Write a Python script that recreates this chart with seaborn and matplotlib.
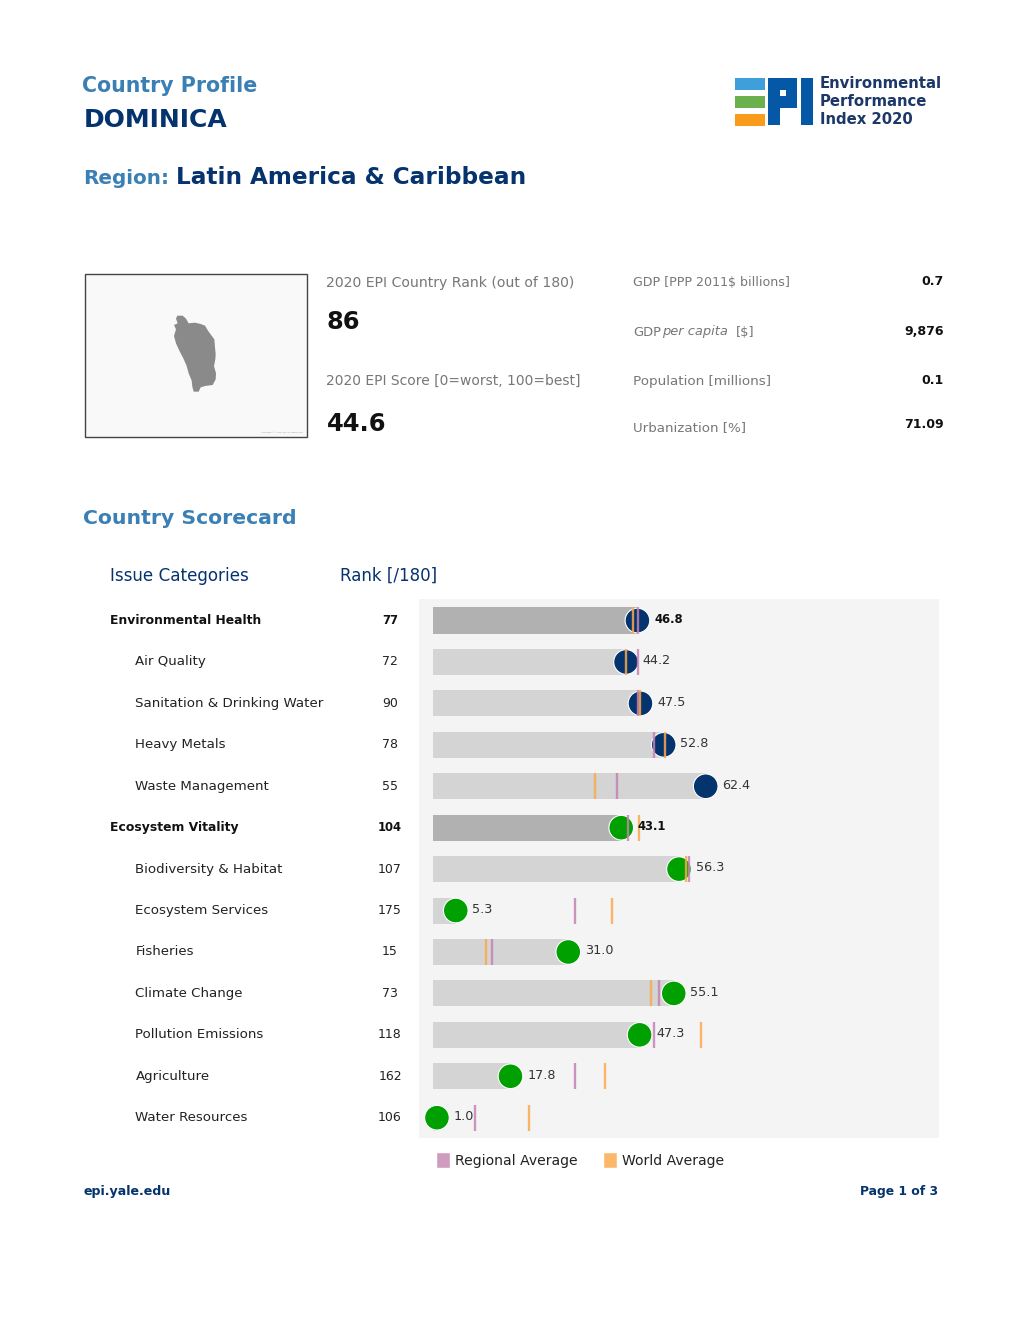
import pandas as pd
import matplotlib
matplotlib.use("Agg")
import matplotlib.pyplot as plt
from matplotlib.patches import Patch, Polygon, Rectangle
import seaborn as sns

# Scorecard values
issues = ["Environmental Health", "Air Quality", "Sanitation & Drinking Water", "Heavy Metals",
          "Waste Management", "Ecosystem Vitality", "Biodiversity & Habitat", "Ecosystem Services",
          "Fisheries", "Climate Change", "Pollution Emissions", "Agriculture", "Water Resources"]
ranks = [77, 72, 90, 78, 55, 104, 107, 175, 15, 73, 118, 162, 106]
scores = [46.8, 44.2, 47.5, 52.8, 62.4, 43.1, 56.3, 5.3, 31.0, 55.1, 47.3, 17.8, 1.0]
regional = [46.9, 46.9, 46.9, 50.7, 42.1, 44.7, 58.5, 32.6, 13.5, 51.8, 50.7, 32.6, 9.7]
world = [45.7, 44.3, 47.4, 53.0, 37.1, 47.1, 57.8, 41.0, 12.3, 49.9, 61.3, 39.5, 22.0]
headline_issues = ["Environmental Health", "Ecosystem Vitality"]
health_issues = issues[:5]

stat_labels = ["GDP [PPP 2011$ billions]", "GDP per capita [$]", "Population [millions]", "Urbanization [%]"]
stat_values = ["0.7", "9,876", "0.1", "71.09"]

NAVY = "#05336e"
MID_BLUE = "#3a80b5"
GREY_TEXT = "#777777"
REGIONAL = "#c583b2"
WORLD = "#fba94d"

sns.set_theme(style="white")
plt.rcParams["font.family"] = ["DejaVu Sans"]

fig = plt.figure(figsize=(10.2, 13.2), dpi=100)

# Page layer in pixel coordinates, for everything around the chart
page = fig.add_axes([0, 0, 1, 1])
page.set_xlim(0, 1020)
page.set_ylim(1320, 0)
page.axis("off")


def put(x, y, s, size, color="#222222", weight="normal", **kw):
    kw.setdefault("va", "center")
    page.text(x, y, s, fontsize=size, color=color, fontweight=weight, **kw)


# Header
put(82, 86, "Country Profile", 14.8, MID_BLUE, "bold")
put(84, 120, "DOMINICA", 18, NAVY, "bold")
put(83, 178, "Region:", 14.4, MID_BLUE, "bold")
put(176, 178, "Latin America & Caribbean", 16.7, NAVY, "bold")

# Logo
for y0, col in zip([78, 96, 114], ["#3f9fdb", "#6ab04c", "#f99b1c"]):
    page.add_patch(Rectangle((735, y0), 30, 12, color=col, lw=0))
page.add_patch(Polygon([(768, 78), (797.5, 78), (797.5, 107.5), (780, 107.5), (780, 125.3), (768, 125.3)],
                       color="#0458a5", lw=0))
page.add_patch(Rectangle((780, 90), 6, 6, color="white", lw=0))
page.add_patch(Rectangle((801, 78), 12, 47.3, color="#0458a5", lw=0))
for y0, line in zip([84, 102, 120], ["Environmental", "Performance", "Index 2020"]):
    put(820, y0, line, 10.7, "#1c3768", "bold")

# Map box
page.add_patch(Rectangle((85, 274), 222, 163, facecolor="#f9f9f9", edgecolor="#444444", lw=1))
outline = [(322, 167), (338, 167), (348, 176), (356, 190), (375, 188), (392, 192), (405, 197), (414, 212),
           (424, 226), (433, 238), (435, 262), (437, 282), (436, 298), (432, 318), (438, 340), (437, 358),
           (428, 375), (405, 378), (392, 382), (386, 395), (371, 395), (367, 380), (365, 362), (356, 340),
           (350, 318), (340, 295), (328, 272), (318, 250), (312, 228), (318, 208), (312, 195), (323, 190),
           (318, 176)]
page.add_patch(Polygon([(70 + x / 3, 260 + y / 3) for x, y in outline], color="#8a8a8a", lw=0))
put(303, 432.5, "Copyright © Free Vector Maps.com", 1.7, "#999999", ha="right")

# Rank and score block
put(326, 283, "2020 EPI Country Rank (out of 180)", 10.1, GREY_TEXT)
put(327, 322, "86", 17.4, "#111111", "bold")
put(326, 381, "2020 EPI Score [0=worst, 100=best]", 10, GREY_TEXT)
put(327, 424, "44.6", 17.4, "#111111", "bold")

# Country statistics
label_rows = [283, 332, 381, 428]
value_rows = [281.5, 331.5, 380, 424.5]
label_sizes = [9.1, 9.4, 9.7, 9.6]
for row, vrow, size, label, value in zip(label_rows, value_rows, label_sizes, stat_labels, stat_values):
    if "per capita" in label:
        put(633, row, "GDP", size, GREY_TEXT)
        put(662, row, "per capita", size, GREY_TEXT, style="italic")
        put(736, row, "[$]", size, GREY_TEXT)
    else:
        put(633, row, label, size, GREY_TEXT)
    put(944, vrow, value, 9.1, "#111111", "bold", ha="right")

put(83, 519, "Country Scorecard", 14.7, MID_BLUE, "bold")
put(110, 576, "Issue Categories", 12.1, NAVY)
put(340, 576, "Rank [/180]", 12, NAVY)

# Scorecard chart
df = pd.DataFrame({"issue": issues, "rank": ranks, "score": scores, "regional": regional, "world": world})
df["row"] = range(len(df))
df["kind"] = ["headline" if i in headline_issues else "sub" for i in df["issue"]]
df["group"] = ["health" if i in health_issues else "vitality" for i in df["issue"]]

ax = fig.add_axes([419 / 1020, 1 - 1138 / 1320, 520 / 1020, 539 / 1320], facecolor="#f4f4f4")
sns.barplot(data=df, x="score", y="issue", hue="kind", palette={"headline": "#b1b1b1", "sub": "#d4d4d4"},
            dodge=False, width=0.63, legend=False, saturation=1, linewidth=0, ax=ax, zorder=2)
sns.scatterplot(data=df, x="score", y="row", hue="group", palette={"health": NAVY, "vitality": "#00a000"},
                s=315, edgecolor="white", linewidth=0.8, legend=False, ax=ax, zorder=3, clip_on=False)
ax.vlines(df["regional"], df["row"] - 0.315, df["row"] + 0.315, color=REGIONAL, lw=1.7, alpha=0.85, zorder=4)
ax.vlines(df["world"], df["row"] - 0.315, df["row"] + 0.315, color=WORLD, lw=1.7, alpha=0.85, zorder=4)
ax.set_xlim(-3.1, 115.7)
ax.set_ylim(12.49, -0.52)
ax.set_xlabel("")
ax.set_ylabel("")
ax.set_xticks([])
ax.set_yticks([])
sns.despine(ax=ax, left=True, bottom=True)

for _, r in df.iterrows():
    bold = r["kind"] == "headline"
    weight = "bold" if bold else "normal"
    color = "#111111" if bold else "#333333"
    ax.text(r["score"] + 3.8, r["row"] - 0.03, f"{r['score']:.1f}", fontsize=8.4 if bold else 9.2, color=color,
            fontweight=weight, va="center", zorder=5)
    y_px = 620.5 + r["row"] * 41.42
    put(110 if bold else 135.5, y_px, r["issue"], 8.9 if bold else 9.65, "#111111" if bold else "#222222", weight)
    put(390, y_px, str(r["rank"]), 8.4 if bold else 9, "#111111" if bold else "#222222", weight, ha="center")

handles = [Patch(facecolor="#cf9bbf", label="Regional Average"), Patch(facecolor="#fdb76b", label="World Average")]
fig.legend(handles=handles, ncol=2, frameon=False, loc="center left", bbox_to_anchor=(423 / 1020, 1 - 1160 / 1320),
           fontsize=10.1, handlelength=1.0, handleheight=1.4, handletextpad=0.36, columnspacing=1.8,
           labelcolor="#222222")

# Footer
put(84, 1191, "epi.yale.edu", 9.1, NAVY, "bold")
put(938, 1192, "Page 1 of 3", 8.9, NAVY, "bold", ha="right")

fig.savefig("out.png", dpi=100, facecolor="white")
